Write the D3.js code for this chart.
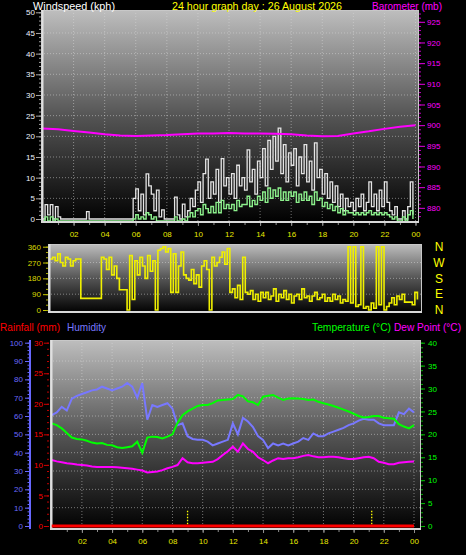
<!DOCTYPE html>
<html><head><meta charset="utf-8">
<script src="https://cdn.jsdelivr.net/npm/d3@7"></script>
<style>
body{margin:0;background:#000;}
svg{display:block;font-family:"Liberation Sans",Arial,sans-serif;}
</style>
</head><body>
<svg id="c" width="466" height="555"></svg>
<script>
// ---------- DATA ----------
const titleText = "24 hour graph day : 26 August 2026";
const hourTicks = [2,4,6,8,10,12,14,16,18,20,22,24];
const hourLabels = ["02","04","06","08","10","12","14","16","18","20","22","00"];

// wind (kph), 10-minute samples from 00:00
const windGust = [
0,3.5,1,3.5,0,3,  0.5,0,0,0,0,0,  0,0,0,0,0,1.8,  0,0,0,0,0,0,
0,0,0,0,0,0,  0,0,0,0,0,5,  7.3,2,6,1,10.9,8,  6,2,7,0.5,2.2,0,
0,0,0,5.3,1,0,  3.6,0.5,2,5,3,7,  9,4,11,14.5,5,9,  6,12,4,14.6,8,10,
6,11,5,13,8,10,  7,16.7,9,12,6,14,  10,17,8,19,12,20,  14,22,11,18,9,16,
13,17,8,15,11,18,  9,14,7,18.4,10,12,  6,11,5,9,4,8,  3,6,2,5,3,4,
2,5,3,6,2,4,  9,3,6,2,7,3,  9,4,2,1,3,0,  0,2,0,3,9,1];
const windAvg = [
0,1,0,1,0,0.5,  0,0,0,0,0,0,  0,0,0,0,0,0,  0,0,0,0,0,0,
0,0,0,0,0,0,  0,0,0,0,0,0.5,  1.5,0.5,1,0.5,2,1.5,  0.5,1,0,0,0,0,
0,0,0,1,0,0,  0.5,0,1,2,1,2.5,  3,1.5,4,3,2,3.5,  2,4.5,2,5,3,4,
3,4,2.5,5,3.5,4,  4,6,3.5,5,4,6,  5,7,4.5,8,5.5,7.5,  6,8,5,7,5,7,
6,7,4.5,6.5,5,7,  5,6,4,7,5,5.5,  3.5,4.5,3,4,2.5,3.5,  2,3,1.5,2.5,2,2,
1.5,2,1.5,2,1.5,2,  2.5,1.5,2,1.5,2,1.5,  2,1.5,1,0.5,1,0,  0,1,0,1.5,2.5,0.5];
// barometer (mb), hourly 00..24
const baro = [899.2,899.0,898.6,898.2,897.8,897.5,897.4,897.5,897.6,897.8,898.0,898.0,898.1,
              898.0,898.0,897.9,897.8,897.5,897.3,897.4,898.0,898.5,899.1,899.6,900.0];
// wind direction (deg), 10-minute samples
const windDir = [
290,300,280,320,270,250,  300,290,250,280,290,290,  66,66,66,66,66,66,  66,66,300,290,230,300,
200,250,180,115,115,115,  0,310,60,280,200,300,  250,180,310,220,280,0,  340,350,360,330,350,100,
320,100,250,330,200,180,  170,230,150,200,130,250,  280,230,0,300,250,270,  300,330,260,350,100,120,
70,140,60,300,100,90,  110,60,90,50,100,70,  100,60,80,120,50,90,  70,110,60,90,40,80,
90,60,120,70,80,50,  80,100,60,70,90,50,  70,50,90,60,80,40,  60,50,360,40,360,20,
30,360,10,20,0,40,  10,360,30,360,0,20,  40,70,30,80,60,90,  45,45,45,30,100,60];
// 20-minute samples 00:00..24:00
const humidity = [
60.5,62,65, 63,69.5,71, 72,73,74, 74.5,76,75, 74,75,76, 78,76,70,
78,58,66, 65,66,67, 64,55,56, 49,47.5,47, 47,46,44, 45,46,47,
56,50,59, 57,54,49, 47,42.5,45, 44,45,44, 45,46,48, 47,50.5,49,
49,50.5,51.5, 52.5,53.5,55, 56,57.5,58.5, 58,58,56, 55,55,55, 62,61,64, 62];
const temperature = [
22.4,22.0,21.3, 20.3,19.3,19.0, 18.9,18.6,18.2, 18.0,18.1,17.7, 17.6,17.2,17.0, 17.2,17.4,18.4,
16.0,19.3,19.5, 19.4,19.1,19.5, 20.0,22.5,24.2, 25.0,25.6,26.2, 26.4,26.4,26.8, 27.4,27.5,27.6,
27.7,28.6,28.3, 27.2,27.0,26.4, 28.2,28.4,28.6, 28.0,27.5,27.8, 27.9,27.8,27.7, 27.5,27.6,27.1,
26.8,26.5,26.2, 25.8,25.4,25.0, 24.5,24.0,23.7, 23.8,24.0,24.0, 23.6,23.5,23.4, 22.2,21.7,21.3, 22.0];
const dewPoint = [
14.4,14.1,13.9, 13.7,13.6,13.4, 13.3,13.2,13.0, 12.9,12.9,12.9, 12.9,12.8,12.7, 12.6,12.5,12.3,
12.1,11.7,11.8, 11.9,12.2,12.6, 12.9,13.3,14.8, 13.9,13.7,13.7, 13.8,13.9,14.0, 14.6,15.5,16.3,
17.3,16.2,18.0, 16.8,16.2,15.0, 14.4,13.7,14.3, 14.8,14.6,14.8, 14.8,15.0,15.3, 15.5,15.2,15.0,
15.0,15.1,15.1, 15.0,14.8,14.6, 14.6,14.8,15.0, 15.1,14.8,14.0, 13.8,13.5,13.5, 13.8,13.9,14.0, 14.1];
const rainfall = [0,0,0,0,0,0,0,0,0,0,0,0,0,0,0,0,0,0,0,0,0,0,0,0,0];
const markerHours = [9.0, 21.2];
const compassLabels = ["N","W","S","E","N"];
const compassDeg = [360,270,180,90,0];

// ---------- DRAW ----------
const svg = d3.select("#c");
const defs = svg.append("defs");
const gr = defs.append("linearGradient").attr("id","bg").attr("x1",0).attr("y1",0).attr("x2",0).attr("y2",1);
gr.append("stop").attr("offset",0).attr("stop-color","#bebebe");
gr.append("stop").attr("offset",0.5).attr("stop-color","#545454");
gr.append("stop").attr("offset",1).attr("stop-color","#000");

function panel(x0,y0,x1,y1){
  svg.append("rect").attr("x",x0).attr("y",y0).attr("width",x1-x0).attr("height",y1-y0).attr("fill","url(#bg)");
}
function frame(x0,y0,x1,y1){
  svg.append("rect").attr("x",x0+0.5).attr("y",y0+0.5).attr("width",x1-x0-1).attr("height",y1-y0-1)
    .attr("fill","none").attr("stroke","#c8c8c8").attr("stroke-width",1);
  svg.append("line").attr("x1",x0+1.5).attr("x2",x0+1.5).attr("y1",y0).attr("y2",y1)
    .attr("stroke","#e0e0e0").attr("stroke-width",2);
  svg.append("line").attr("x1",x0).attr("x2",x1).attr("y1",y1-1).attr("y2",y1-1)
    .attr("stroke","#d8d8d8").attr("stroke-width",2);
}
function grid(xs, ys, x0,y0,x1,y1){
  const g = svg.append("g").attr("stroke","#dcdcdc").attr("stroke-opacity",0.5).attr("stroke-dasharray","1,2");
  xs.forEach(x=>g.append("line").attr("x1",x).attr("x2",x).attr("y1",y0).attr("y2",y1));
  ys.forEach(y=>g.append("line").attr("x1",x0).attr("x2",x1).attr("y1",y).attr("y2",y));
}
function styleAxis(g, color, fs){
  g.select(".domain").remove();
  g.selectAll("line").attr("stroke",color);
  g.selectAll("text").attr("fill",color).style("font-size",fs+"px").style("font-family","'Liberation Sans',Arial,sans-serif");
}
function label(x,y,color,txt,len,anchor){
  return svg.append("text").attr("x",x).attr("y",y).attr("fill",color)
    .attr("text-anchor",anchor||"start").style("font-size","11px")
    .attr("textLength",len).attr("lengthAdjust","spacingAndGlyphs").text(txt);
}

// ===== TOP: wind + barometer =====
const xTop = d3.scaleLinear([0,24],[42.5,415.5]);
const yWind = d3.scaleLinear([0,50],[219,12.3]);
const yBaro = d3.scaleLinear([877.3,927.3],[219,12.3]);
panel(41,10,419,223);
grid(hourTicks.map(xTop), d3.range(5,50,5).map(yWind), 41,10,419,223);

const tWind = (d,i)=>xTop(i/6);
svg.append("path").datum(windGust)
  .attr("d", d3.line().x(tWind).y(d=>yWind(d)).curve(d3.curveStepAfter))
  .attr("fill","none").attr("stroke","#e4e4e4").attr("stroke-width",1.3);
svg.append("path").datum(windAvg)
  .attr("d", d3.line().x(tWind).y(d=>yWind(d)).curve(d3.curveStepAfter))
  .attr("transform","translate(0,2)")
  .attr("fill","none").attr("stroke","#8cf08c").attr("stroke-width",1.4);
svg.append("path").datum(baro)
  .attr("d", d3.line().x((d,i)=>xTop(i)).y(d=>yBaro(d)))
  .attr("fill","none").attr("stroke","#ff00ff").attr("stroke-width",2);
frame(41,10,419,223);

// axes
let g = svg.append("g").attr("transform","translate(41,0)")
  .call(d3.axisLeft(yWind).tickValues(d3.range(0,51,5)).tickSize(5).tickPadding(1));
styleAxis(g,"#a8a8a8",8); g.selectAll("text").attr("fill","#eef2ff");
g = svg.append("g").attr("transform","translate(41,0)")
  .call(d3.axisLeft(yWind).tickValues(d3.range(0,51,1)).tickSize(2).tickFormat(""));
styleAxis(g,"#a0a0a0",8);
g = svg.append("g").attr("transform","translate(419,0)")
  .call(d3.axisRight(yBaro).tickValues(d3.range(880,926,5)).tickSize(6).tickPadding(2));
styleAxis(g,"#e000e0",8); g.selectAll("text").attr("fill","#ff00ff");
g = svg.append("g").attr("transform","translate(419,0)")
  .call(d3.axisRight(yBaro).tickValues(d3.range(878,928,1)).tickSize(2).tickFormat(""));
styleAxis(g,"#c000c0",8);
g = svg.append("g").attr("transform","translate(0,223)")
  .call(d3.axisBottom(xTop).tickValues(hourTicks).tickFormat((d,i)=>hourLabels[i]).tickSize(3).tickPadding(5));
styleAxis(g,"#909090",8); g.selectAll("text").attr("fill","#e8e800");
g = svg.append("g").attr("transform","translate(0,223)")
  .call(d3.axisBottom(xTop).tickValues(d3.range(1,25,1)).tickSize(2).tickFormat(""));
styleAxis(g,"#909090",8);

// titles
label(33,10,"#ffffff","Windspeed (kph)",82);
label(172,10,"#ffff00",titleText,170);
label(372,10,"#ff00ff","Barometer (mb)",70);

// ===== MIDDLE: wind direction =====
const xMid = d3.scaleLinear([0,24],[50,420]);
const yDir = d3.scaleLinear([0,360],[310,246.7]);
panel(48,244,422,313);
grid([], [90,180,270].map(yDir), 48,244,422,313);
svg.append("path").datum(windDir)
  .attr("d", d3.line().x((d,i)=>xMid(i/6)).y(d=>yDir(d)).curve(d3.curveStepAfter))
  .attr("fill","none").attr("stroke","#f0f000").attr("stroke-width",1.6);
frame(48,244,422,313);
g = svg.append("g").attr("transform","translate(48,0)")
  .call(d3.axisLeft(yDir).tickValues([0,90,180,270,360]).tickSize(5).tickPadding(2));
styleAxis(g,"#c8c800",8); g.selectAll("text").attr("fill","#d8d800");
g = svg.append("g").attr("transform","translate(48,0)")
  .call(d3.axisLeft(yDir).tickValues(d3.range(0,361,30)).tickSize(2).tickFormat(""));
styleAxis(g,"#b0b000",8);
compassLabels.forEach((t,i)=>{
  svg.append("text").attr("x",439).attr("y",yDir(compassDeg[i])).attr("dy","0.36em")
    .attr("text-anchor","middle").attr("fill","#ffff00").style("font-size","12px").text(t);
});

// ===== BOTTOM: temp / humidity / dew / rain =====
const xBot = d3.scaleLinear([0,24],[51.7,414]);
const yHum = d3.scaleLinear([0,100],[526,342.7]);
const yRain = d3.scaleLinear([0,30],[526,342.7]);
const yTemp = d3.scaleLinear([0,40],[526,342.7]);
panel(50,340,421,530);
grid(hourTicks.map(xBot), d3.range(10,100,10).map(yHum), 50,340,421,530);

const tB = (d,i)=>xBot(i/3);
svg.append("path").datum(dewPoint)
  .attr("d", d3.line().x(tB).y(d=>yTemp(d)))
  .attr("fill","none").attr("stroke","#ff00ff").attr("stroke-width",2);
svg.append("path").datum(humidity)
  .attr("d", d3.line().x(tB).y(d=>yHum(d)))
  .attr("fill","none").attr("stroke","#7878ff").attr("stroke-width",2);
svg.append("path").datum(temperature)
  .attr("d", d3.line().x(tB).y(d=>yTemp(d)))
  .attr("fill","none").attr("stroke","#00ff00").attr("stroke-width",2);
markerHours.forEach(h=>{
  svg.append("line").attr("x1",xBot(h)).attr("x2",xBot(h)).attr("y1",yRain(2.5)).attr("y2",yRain(0))
    .attr("stroke","#ffff00").attr("stroke-width",1.3).attr("stroke-dasharray","1.5,1.5");
});
frame(50,340,421,530);
svg.append("path").datum(rainfall)
  .attr("d", d3.line().x((d,i)=>xBot(i)).y(d=>yRain(d)))
  .attr("fill","none").attr("stroke","#ff0000").attr("stroke-width",3);

// humidity axis
svg.append("line").attr("x1",30).attr("x2",30).attr("y1",340).attr("y2",529)
  .attr("stroke","#6868ff").attr("stroke-width",2);
g = svg.append("g").attr("transform","translate(30,0)")
  .call(d3.axisLeft(yHum).tickValues(d3.range(0,101,10)).tickSize(5).tickPadding(2));
styleAxis(g,"#6868ff",8); g.selectAll("text").attr("fill","#6a6aff");
g = svg.append("g").attr("transform","translate(30,0)")
  .call(d3.axisLeft(yHum).tickValues(d3.range(0,101,2)).tickSize(2.5).tickFormat(""));
styleAxis(g,"#6868ff",8);
// rain axis
g = svg.append("g").attr("transform","translate(49,0)")
  .call(d3.axisLeft(yRain).tickValues(d3.range(0,31,5)).tickSize(5).tickPadding(1));
styleAxis(g,"#d00000",8); g.selectAll("text").attr("fill","#ff0000");
g = svg.append("g").attr("transform","translate(49,0)")
  .call(d3.axisLeft(yRain).tickValues(d3.range(0,31,1)).tickSize(2).tickFormat(""));
styleAxis(g,"#c00000",8);
// temp axis
g = svg.append("g").attr("transform","translate(421,0)")
  .call(d3.axisRight(yTemp).tickValues(d3.range(0,41,5)).tickSize(4).tickPadding(3));
styleAxis(g,"#00c000",8); g.selectAll("text").attr("fill","#00ff00");
g = svg.append("g").attr("transform","translate(421,0)")
  .call(d3.axisRight(yTemp).tickValues(d3.range(0,41,1)).tickSize(2).tickFormat(""));
styleAxis(g,"#00b000",8);
// bottom x axis
g = svg.append("g").attr("transform","translate(0,530)")
  .call(d3.axisBottom(xBot).tickValues(hourTicks).tickFormat((d,i)=>hourLabels[i]).tickSize(3).tickPadding(5));
styleAxis(g,"#909090",8); g.selectAll("text").attr("fill","#e8e800");
g = svg.append("g").attr("transform","translate(0,530)")
  .call(d3.axisBottom(xBot).tickValues(d3.range(1,25,1)).tickSize(2).tickFormat(""));
styleAxis(g,"#909090",8);

// legend
label(0,331,"#ff0000","Rainfall (mm)",60);
label(67,331,"#7878ff","Humidity",39);
label(312,331,"#00ff00","Temperature (°C)",79);
label(394,331,"#ff00ff","Dew Point (°C)",67);
</script>
</body></html>
